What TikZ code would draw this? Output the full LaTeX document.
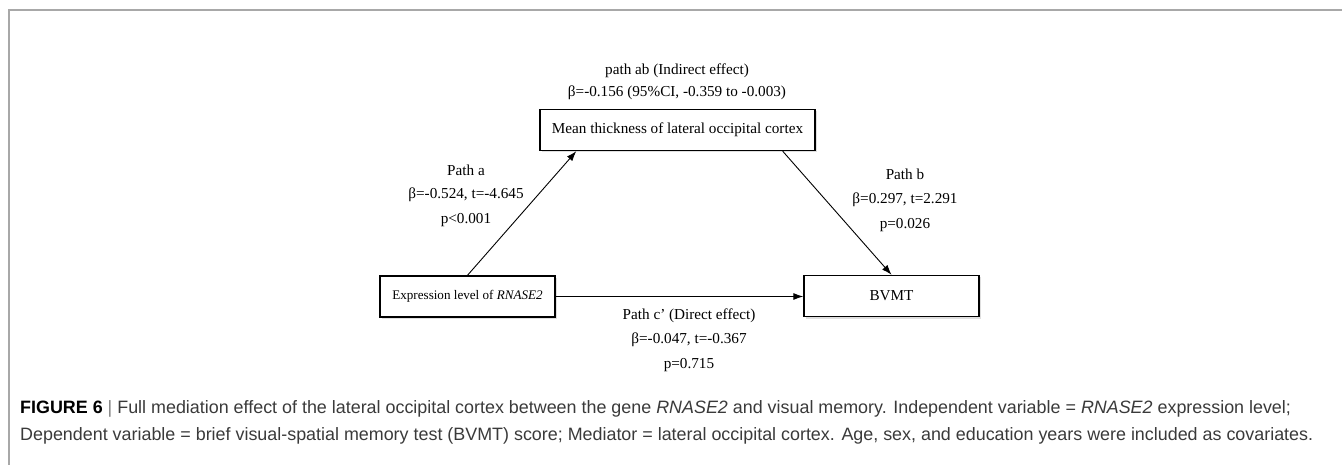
\documentclass[tikz,border=0pt]{standalone}
\usepackage{fontspec}
\setmainfont{Liberation Serif}
\newfontfamily\capfont{Liberation Sans}
\usetikzlibrary{arrows.meta,calc,shadows}
\definecolor{framegray}{HTML}{A8A8A8}
\definecolor{captext}{HTML}{3A3A3A}
\begin{document}
\begin{tikzpicture}[x=1pt,y=-1pt,
  varbox/.style={draw=black,line width=1.4pt,fill=white,minimum height=41pt,inner sep=0pt,
    drop shadow={shadow xshift=2pt,shadow yshift=-2pt,opacity=0.25,fill=gray}},
  lbl/.style={font=\fontsize{15.2}{18}\selectfont,inner sep=0pt,anchor=center},
  conn/.style={line width=0.9pt,-{Latex[length=10pt,width=7pt]}},
  capline/.style={font=\capfont\fontsize{17.9}{20}\selectfont,text=captext,anchor=west,inner sep=0pt}]
\useasboundingbox (0,0) rectangle (1342,465);
% frame
\coordinate (ftl) at (9,10);
\coordinate (ftr) at (1342,10);
\coordinate (fbl) at (9,465);
\draw[framegray,line width=1.3pt] (ftr) -- (ftl) -- (fbl);
% boxes
\node[varbox,minimum width=275pt,font=\fontsize{15.2}{18}\selectfont] (med) at (677.5,130) {Mean thickness of lateral occipital cortex};
\node[varbox,minimum width=175pt,font=\fontsize{13.1}{16}\selectfont] (iv) at (467.5,296.5) {Expression level of \textit{RNASE2}};
\node[varbox,minimum width=175pt,font=\fontsize{15.2}{18}\selectfont] (dv) at (891.5,296) {BVMT};
% connectors
\draw[conn] (iv.north) -- ($(med.south west)+(37,0)$);
\draw[conn] ($(med.south east)+(-33,0)$) -- (dv.north);
\draw[conn] (iv.east) -- (iv.east -| dv.west);
% labels
\node[lbl] (ab1) at (677,71) {path ab (Indirect effect)};
\node[lbl] (ab2) at (677,93) {β=-0.156 (95\%CI, -0.359 to -0.003)};
\node[lbl] (a1) at (466,170) {Path a};
\node[lbl] (a2) at (466,195) {β=-0.524, t=-4.645};
\node[lbl] (a3) at (466,220) {p<0.001};
\node[lbl] (b1) at (905,174) {Path b};
\node[lbl] (b2) at (905,200) {β=0.297, t=2.291};
\node[lbl] (b3) at (905,225) {p=0.026};
\node[lbl] (c1) at (689,316) {Path c’ (Direct effect)};
\node[lbl] (c2) at (689,340) {β=-0.047, t=-0.367};
\node[lbl] (c3) at (689,365) {p=0.715};
% caption
\node[capline] (cap1) at (20,409) {\textcolor{black}{\textbf{FIGURE 6}} \textcolor{gray}{|} Full mediation effect of the lateral occipital cortex between the gene \textit{RNASE2} and visual memory. Independent variable = \textit{RNASE2} expression level;};
\node[capline] (cap2) at (20,436) {Dependent variable = brief visual-spatial memory test (BVMT) score; Mediator = lateral occipital cortex. Age, sex, and education years were included as covariates.};
\end{tikzpicture}
\end{document}
